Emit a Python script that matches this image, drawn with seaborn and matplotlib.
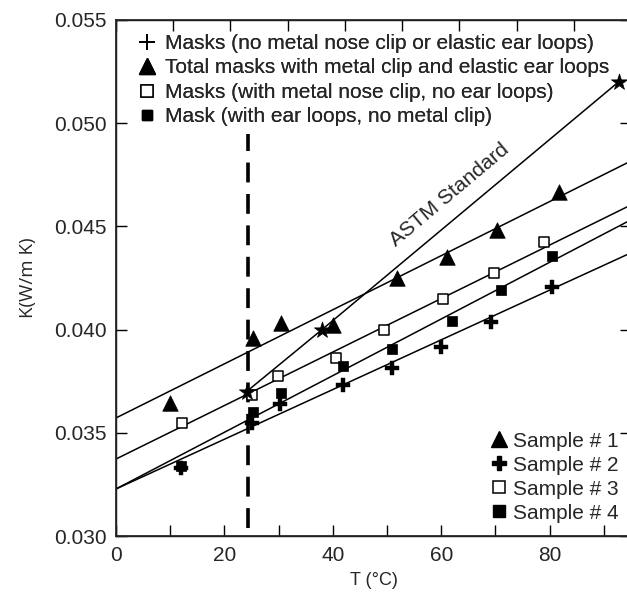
import numpy as np
import pandas as pd
import matplotlib
matplotlib.use("Agg")
import matplotlib.pyplot as plt
from matplotlib.lines import Line2D
import seaborn as sns

sns.set_theme(style="white")
plt.rcParams['font.family'] = ['Liberation Sans', 'DejaVu Sans']

# ---------------- data ----------------
s1_T = [10.0, 25.3, 30.4, 40.0, 51.8, 61.0, 70.2, 81.7]
s1_K = [0.03644, 0.0396, 0.04032, 0.04022, 0.0425, 0.04352, 0.04483, 0.04667]

s2_T = [12.0, 25.1, 30.2, 41.9, 50.9, 60.0, 69.1, 80.4]
s2_K = [0.0333, 0.03548, 0.0364, 0.03732, 0.03814, 0.03916, 0.04037, 0.04206]

s3_T = [12.1, 25.1, 29.9, 40.6, 49.4, 60.3, 69.7, 78.9]
s3_K = [0.03548, 0.03683, 0.03775, 0.03862, 0.03998, 0.04148, 0.04274, 0.04424]

s4_T = [12.0, 25.3, 30.4, 41.9, 50.9, 61.9, 71.1, 80.4]
s4_K = [0.0334, 0.03601, 0.03693, 0.03824, 0.03906, 0.04042, 0.04192, 0.04357]

astm_T = [24.1, 38.0, 92.7]
astm_K = [0.0370, 0.0400, 0.0520]

# linear fit lines: values at the two ends of the T range
fit_T = [0.0, 95.0]
fit1_K = [0.03572, 0.04817]
fit2_K = [0.03228, 0.04372]
fit3_K = [0.03373, 0.04604]
fit4_K = [0.03228, 0.04532]

dashed_T = 24.3
dashed_K = [0.0304, 0.0495]

legend_top_labels = [
    "Masks (no metal nose clip or elastic ear loops)",
    "Total masks with metal clip and elastic ear loops",
    "Masks (with metal nose clip, no ear loops)",
    "Mask (with ear loops, no metal clip)",
]
sample_labels = ["Sample # 1", "Sample # 2", "Sample # 3", "Sample # 4"]
xticks = [0, 20, 40, 60, 80]
yticks = [0.030, 0.035, 0.040, 0.045, 0.050, 0.055]

# ---------------- figure ----------------
W, H = 627, 597
fig = plt.figure(figsize=(W / 100, H / 100), dpi=100)
ax = fig.add_axes([116 / W, 61 / H, 515 / W, 516 / H])
ax.set_facecolor("white")

fits = pd.DataFrame({
    "T": fit_T * 4,
    "K": fit1_K + fit2_K + fit3_K + fit4_K,
    "s": sum([[lab] * 2 for lab in sample_labels], []),
})
sns.lineplot(data=fits, x="T", y="K", units="s", estimator=None,
             color="black", lw=1.1, ax=ax, legend=False)

astm = pd.DataFrame({"T": astm_T, "K": astm_K})
sns.lineplot(data=astm, x="T", y="K", color="black", lw=1.1, ax=ax,
             estimator=None, sort=False, legend=False)
sns.scatterplot(data=astm, x="T", y="K", marker="*", s=150, color="black",
                edgecolor="black", linewidth=0.5, ax=ax, zorder=7, legend=False)

ax.plot([dashed_T, dashed_T], dashed_K, color="black", lw=2.6,
        dashes=(5.5, 3.2), zorder=4)

sns.scatterplot(x=s1_T, y=s1_K, marker="^", s=125, color="black",
                edgecolor="black", linewidth=0.5, ax=ax, zorder=6)
sns.scatterplot(x=s2_T, y=s2_K, marker="P", s=90, color="black",
                edgecolor="black", linewidth=0.3, ax=ax, zorder=6)
sns.scatterplot(x=s3_T, y=s3_K, marker="s", s=55, color="white",
                edgecolor="black", linewidth=1.1, ax=ax, zorder=6)
sns.scatterplot(x=s4_T, y=s4_K, marker="s", s=60, color="black",
                edgecolor="black", linewidth=0.5, ax=ax, zorder=6)

ax.text(61.6, 0.04652, "ASTM Standard", rotation=40, fontsize=15,
        ha="center", va="center", rotation_mode="anchor")

ax.set_xlim(0, 95)
ax.set_ylim(0.030, 0.055)
ax.set_xticks(xticks)
ax.set_xticks([10, 30, 50, 70, 90], minor=True)
ax.set_yticks(yticks)
ax.set_yticklabels([f"{v:.3f}" for v in yticks])
ax.tick_params(axis="both", which="both", direction="in", length=8, width=1,
               color="black", labelsize=15, right=True, bottom=True, left=True)
ax.tick_params(axis="x", pad=7)
ax.tick_params(axis="y", pad=7)
for sp in ["left", "bottom", "top", "right"]:
    ax.spines[sp].set_color("black")
    ax.spines[sp].set_linewidth(1.0)

ax.set_xlabel("T (°C)", fontsize=13, labelpad=5)
ax.set_ylabel("K(W/m K)", fontsize=13.5, family=["Open Sans", "DejaVu Sans"],
              labelpad=12)

top = ax.twiny()
top.set_xlim(ax.get_xlim())
top.set_xticks(np.linspace(0, 95, 10))
top.tick_params(axis="x", direction="in", length=8, width=1, labeltop=False,
                color="black")
top.grid(False)
ax.grid(False)

# ---------------- legends ----------------
h_top = [
    Line2D([], [], ls="none", marker="+", ms=11, mew=1.4, color="black"),
    Line2D([], [], ls="none", marker="^", ms=11, color="black"),
    Line2D([], [], ls="none", marker="s", ms=8, mfc="white", mec="black", mew=1.1),
    Line2D([], [], ls="none", marker="s", ms=7.5, color="black"),
]
leg1 = ax.legend(h_top, legend_top_labels, loc="upper left",
                 bbox_to_anchor=(0.028, 0.989), frameon=False, fontsize=15,
                 handlelength=0.8, handletextpad=0.47, labelspacing=0.26,
                 borderaxespad=0.0)
ax.add_artist(leg1)

h_bot = [
    Line2D([], [], ls="none", marker="^", ms=11.5, color="black"),
    Line2D([], [], ls="none", marker="P", ms=10.5, color="black"),
    Line2D([], [], ls="none", marker="s", ms=8, mfc="white", mec="black", mew=1.1),
    Line2D([], [], ls="none", marker="s", ms=8.5, color="black"),
]
leg2 = top.legend(h_bot, sample_labels, loc="lower right",
                  bbox_to_anchor=(0.992, 0.010), frameon=False, fontsize=15,
                  handlelength=0.8, handletextpad=0.27, labelspacing=0.24,
                  borderaxespad=0.0)

fig.savefig("out.png", dpi=100)
